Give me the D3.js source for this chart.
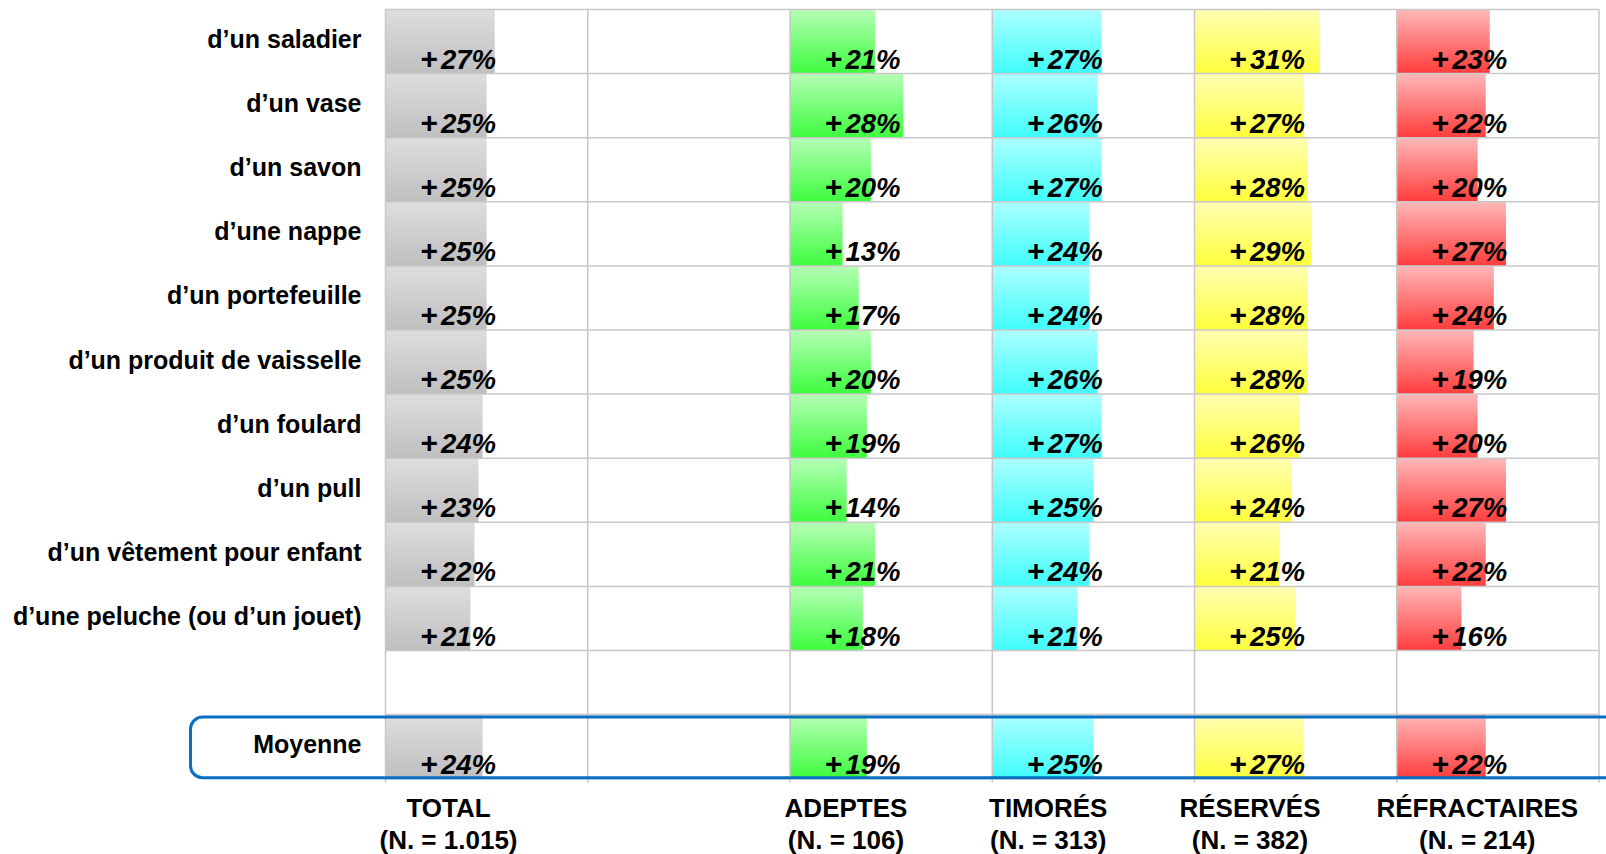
<!DOCTYPE html>
<html lang="fr">
<head>
<meta charset="utf-8">
<title>Hausse par objet et par profil</title>
<script src="https://cdn.jsdelivr.net/npm/d3@7/dist/d3.min.js"></script>
<style>
  html, body { margin: 0; padding: 0; background: #ffffff; }
  svg { display: block; }
  text { font-family: "Liberation Sans", Arial, Helvetica, sans-serif; }
</style>
</head>
<body>
<svg id="chart" width="1606" height="854"></svg>
<script>
// Objects, in display order
const items = [
  "d\u2019un saladier",
  "d\u2019un vase",
  "d\u2019un savon",
  "d\u2019une nappe",
  "d\u2019un portefeuille",
  "d\u2019un produit de vaisselle",
  "d\u2019un foulard",
  "d\u2019un pull",
  "d\u2019un v\u00eatement pour enfant",
  "d\u2019une peluche (ou d\u2019un jouet)"
];
const averageLabel = "Moyenne";

// Segments (the second column is an empty spacer)
const groups = ["TOTAL", "", "ADEPTES", "TIMOR\u00c9S", "R\u00c9SERV\u00c9S", "R\u00c9FRACTAIRES"];
const groupSizes = ["(N. = 1.015)", "", "(N. = 106)", "(N. = 313)", "(N. = 382)", "(N. = 214)"];

// Values in % per segment, one entry per object
const total        = [27, 25, 25, 25, 25, 25, 24, 23, 22, 21];
const adeptes      = [21, 28, 20, 13, 17, 20, 19, 14, 21, 18];
const timores      = [27, 26, 27, 24, 24, 26, 27, 25, 24, 21];
const reserves     = [31, 27, 28, 29, 28, 28, 26, 24, 21, 25];
const refractaires = [23, 22, 20, 27, 24, 19, 20, 27, 22, 16];

// Averages per segment
const averages = { "TOTAL": 24, "ADEPTES": 19, "TIMOR\u00c9S": 25, "R\u00c9SERV\u00c9S": 27, "R\u00c9FRACTAIRES": 22 };

const seriesByGroup = {
  "TOTAL": total,
  "ADEPTES": adeptes,
  "TIMOR\u00c9S": timores,
  "R\u00c9SERV\u00c9S": reserves,
  "R\u00c9FRACTAIRES": refractaires
};

// Gradient stops (top, bottom) per segment
const gradients = {
  "TOTAL": ["#dedede", "#bfbfbf"],
  "ADEPTES": ["#b6ffb6", "#3dfc3d"],
  "TIMOR\u00c9S": ["#adffff", "#3ffcfc"],
  "R\u00c9SERV\u00c9S": ["#ffffb4", "#ffff3c"],
  "R\u00c9FRACTAIRES": ["#ffb8b8", "#ff3c3c"]
};

// Header label horizontal offset from the column's left edge
const headerOffset = [63, 0, 56, 56, 55.5, 80.5];

const svg = d3.select("#chart");

const gridLeft = 385.5, gridRight = 1599, gridTop = 9.5, rowH = 64.1;
const rowKeys = items.concat(["__gap__", averageLabel]);

const x = d3.scaleBand().domain(groups.map((g, i) => i)).range([gridLeft, gridRight]).paddingInner(0).paddingOuter(0);
const y = d3.scaleBand().domain(rowKeys).range([gridTop, gridTop + rowH * rowKeys.length]).padding(0);
const v = d3.scaleLinear().domain([0, 50]).range([0, x.bandwidth()]);

// Gradients
const defs = svg.append("defs");
Object.entries(gradients).forEach(([g, stops], i) => {
  const lg = defs.append("linearGradient").attr("id", "grad" + i)
    .attr("x1", 0).attr("y1", 0).attr("x2", 0).attr("y2", 1);
  lg.append("stop").attr("offset", "0%").attr("stop-color", stops[0]);
  lg.append("stop").attr("offset", "100%").attr("stop-color", stops[1]);
});
const gradId = g => "url(#grad" + Object.keys(gradients).indexOf(g) + ")";

// Flat list of cells
const cells = [];
groups.forEach((g, gi) => {
  if (!seriesByGroup[g]) return;
  items.forEach((it, ii) => cells.push({ g, gi, row: it, value: seriesByGroup[g][ii] }));
  cells.push({ g, gi, row: averageLabel, value: averages[g] });
});

// Bars
svg.append("g").selectAll("rect").data(cells).join("rect")
  .attr("x", d => x(d.gi))
  .attr("y", d => y(d.row))
  .attr("width", d => v(d.value))
  .attr("height", y.bandwidth())
  .attr("fill", d => gradId(d.g));

// Grid
const grid = svg.append("g").attr("stroke", "#c8c8c8").attr("stroke-width", 1.5);
const rowEdges = rowKeys.map(k => y(k)).concat([y.range()[1]]);
grid.selectAll("line.h").data(rowEdges).join("line").attr("class", "h")
  .attr("x1", gridLeft).attr("x2", gridRight)
  .attr("y1", d => d).attr("y2", d => d);
const colEdges = groups.map((g, i) => x(i)).concat([gridRight]);
grid.selectAll("line.v").data(colEdges).join("line").attr("class", "v")
  .attr("x1", d => d).attr("x2", d => d)
  .attr("y1", gridTop).attr("y2", y.range()[1] + 4);

// Highlight frame around the average row
const avgTop = y(averageLabel), avgBot = avgTop + y.bandwidth();
svg.append("rect")
  .attr("x", 190.5).attr("y", avgTop + 2.5)
  .attr("width", 1640 - 190.5).attr("height", avgBot - avgTop - 3.5)
  .attr("rx", 12).attr("ry", 12)
  .attr("fill", "none").attr("stroke", "#0a6fc2").attr("stroke-width", 3);

// Value labels: a heavier "+" followed by the percentage
const valueLabels = svg.append("g").selectAll("text").data(cells).join("text")
  .attr("x", d => x(d.gi) + 110.5)
  .attr("y", d => y(d.row) + y.bandwidth() - 5)
  .attr("text-anchor", "end")
  .attr("font-weight", "bold").attr("font-style", "italic")
  .attr("fill", "#000");
valueLabels.append("tspan")
  .attr("font-size", 30).attr("font-style", "normal")
  .text("+");
valueLabels.append("tspan")
  .attr("dx", 3)
  .attr("font-size", 27.5)
  .text(d => d.value + "%");

// Row labels
svg.append("g").selectAll("text").data(items.concat([averageLabel])).join("text")
  .attr("x", 361.5)
  .attr("y", d => y(d) + 38.5)
  .attr("text-anchor", "end")
  .attr("font-size", 25).attr("font-weight", "bold")
  .attr("fill", "#000")
  .text(d => d);

// Column headers
const headers = svg.append("g").selectAll("text")
  .data(groups.map((g, i) => ({ g, i })).filter(d => d.g !== ""))
  .join("text")
  .attr("text-anchor", "middle")
  .attr("font-size", 26).attr("font-weight", "bold")
  .attr("fill", "#000");
headers.append("tspan")
  .attr("x", d => x(d.i) + headerOffset[d.i]).attr("y", 817)
  .text(d => d.g);
headers.append("tspan")
  .attr("x", d => x(d.i) + headerOffset[d.i]).attr("y", 849)
  .text(d => groupSizes[d.i]);
</script>
</body>
</html>
